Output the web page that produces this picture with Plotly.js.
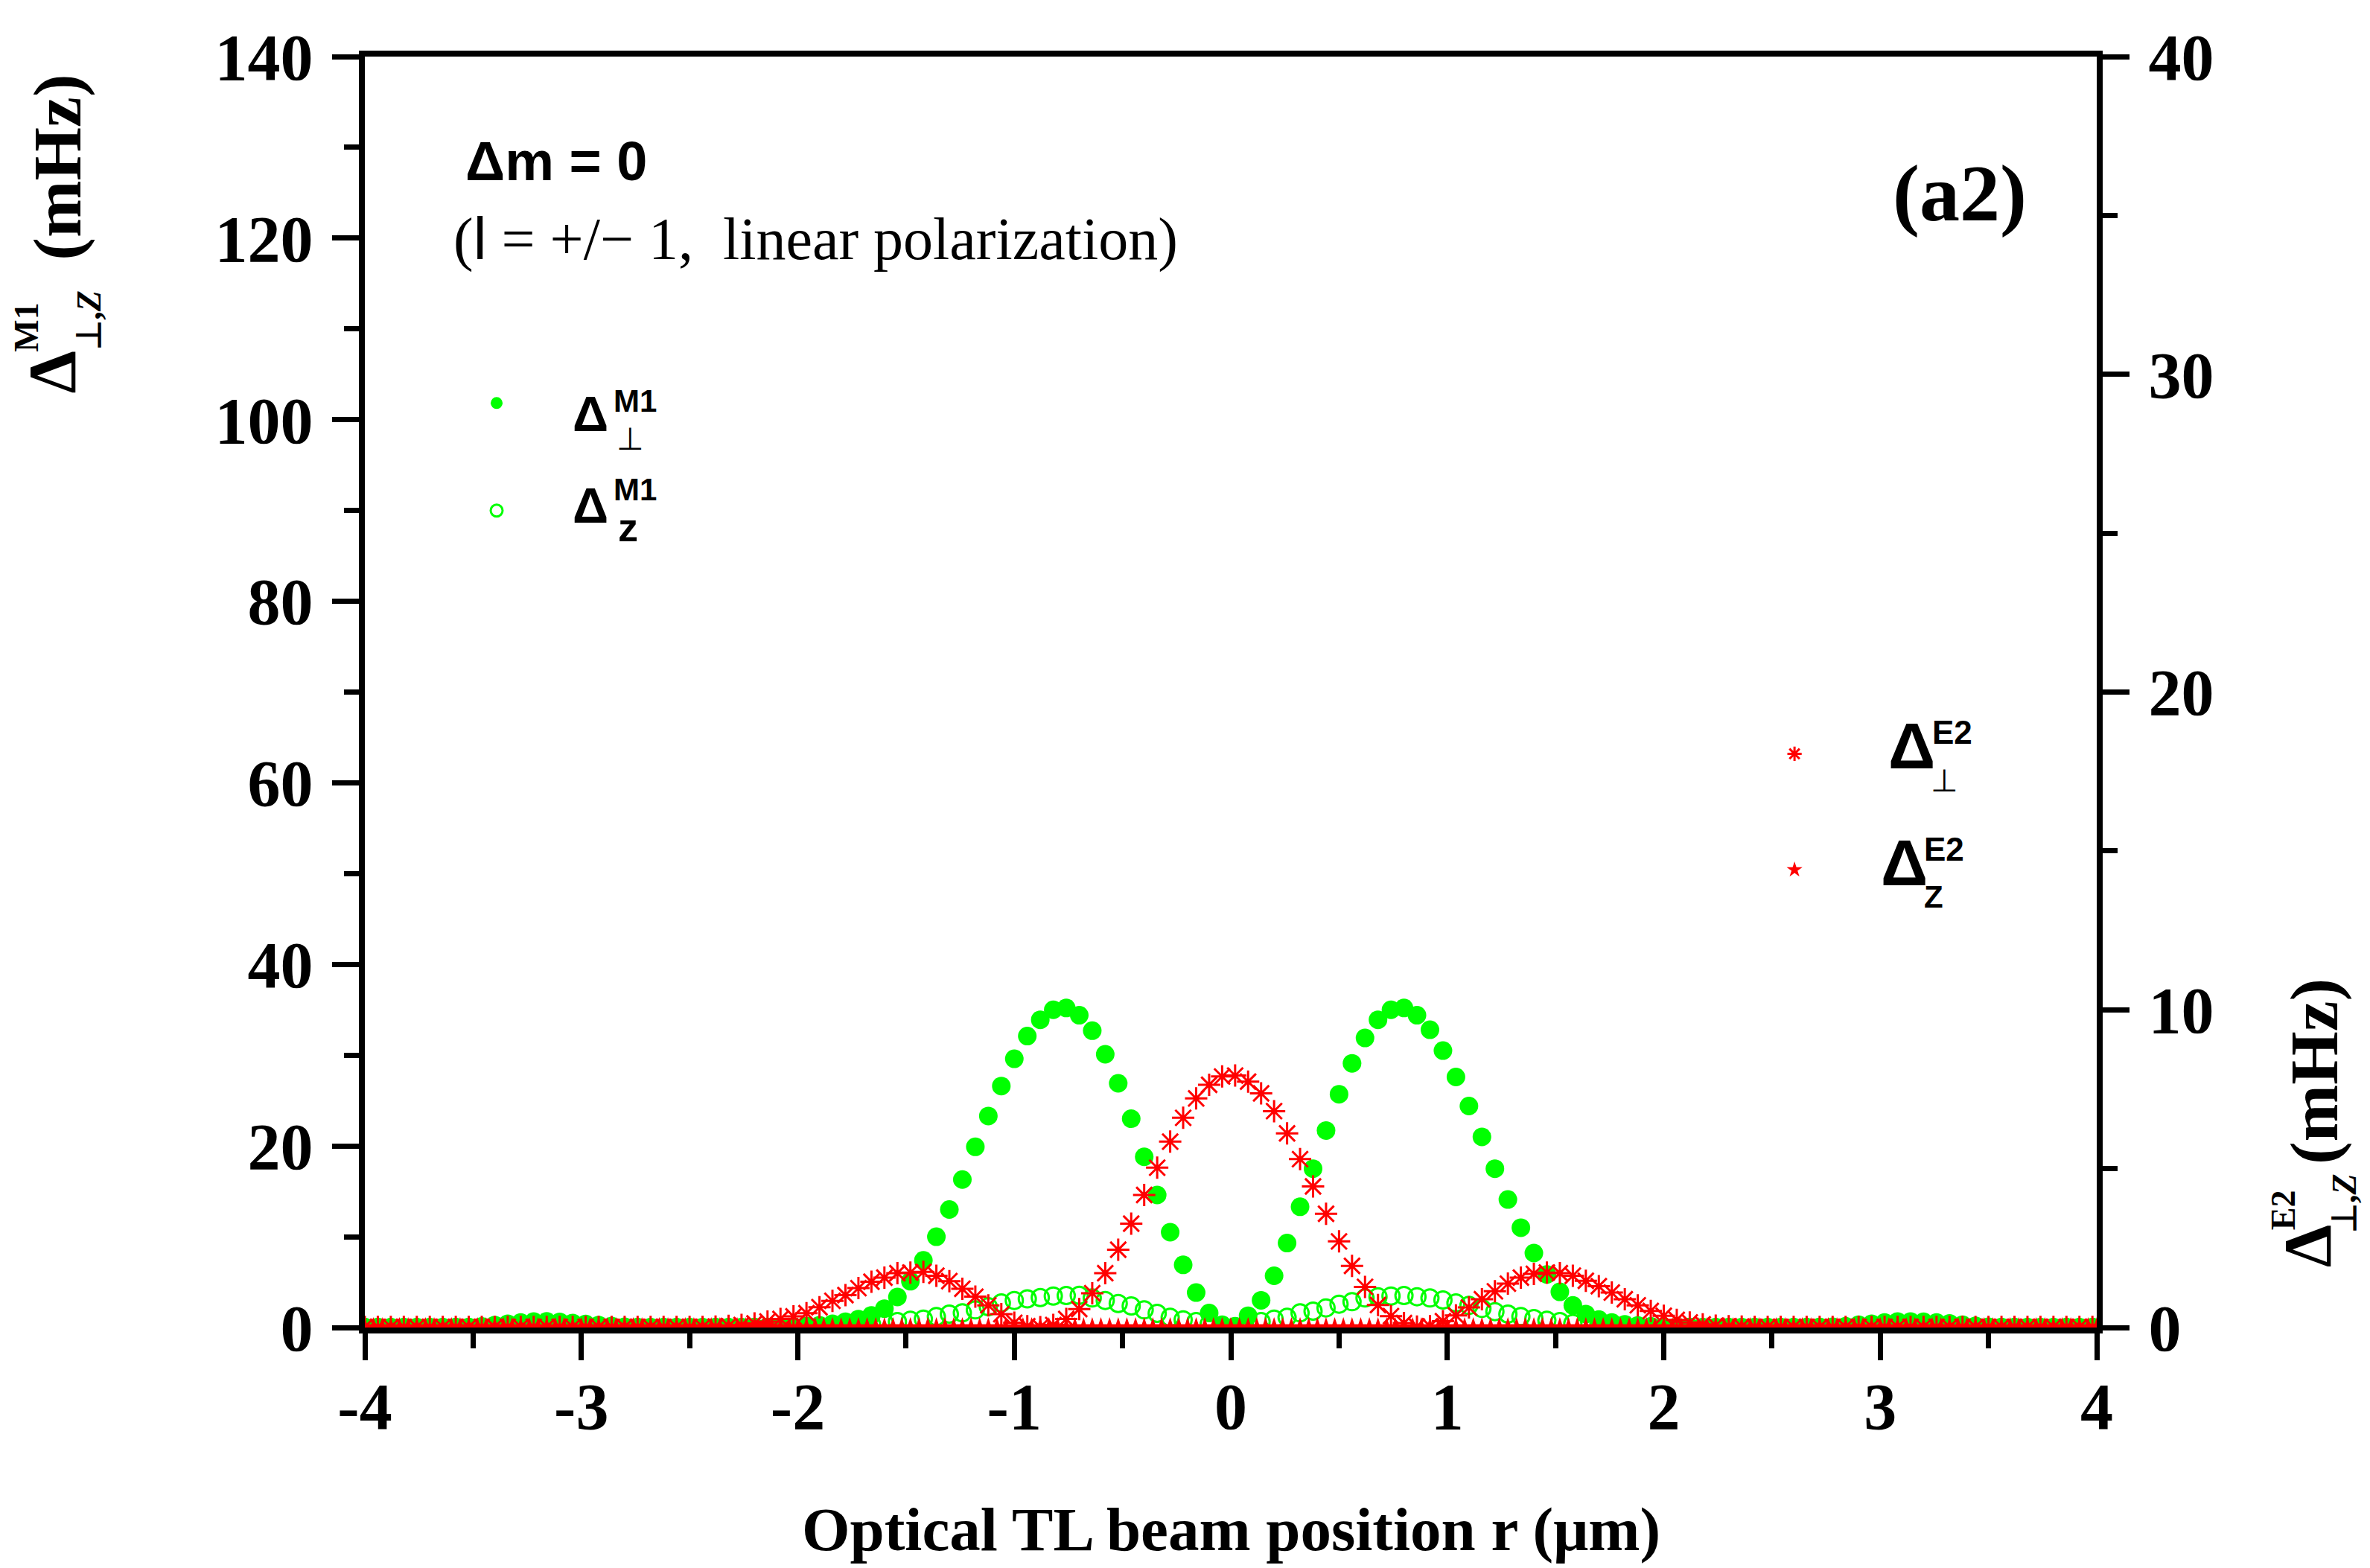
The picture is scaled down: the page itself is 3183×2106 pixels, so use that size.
<!DOCTYPE html>
<html>
<head>
<meta charset="utf-8">
<script src="https://cdn.plot.ly/plotly-3.0.1.min.js"></script>
<style>
  html, body { margin: 0; padding: 0; background: #ffffff; }
  #chart { width: 3183px; height: 2106px; }
</style>
</head>
<body>
<div id="chart"></div>
<script>
// beam position r (um), sampled every 0.06 for the first three series
var r_pos = [
  -4.00, -3.94, -3.88, -3.82, -3.76, -3.70, -3.64, -3.58, -3.52, -3.46,
  -3.40, -3.34, -3.28, -3.22, -3.16, -3.10, -3.04, -2.98, -2.92, -2.86,
  -2.80, -2.74, -2.68, -2.62, -2.56, -2.50, -2.44, -2.38, -2.32, -2.26,
  -2.20, -2.14, -2.08, -2.02, -1.96, -1.90, -1.84, -1.78, -1.72, -1.66,
  -1.60, -1.54, -1.48, -1.42, -1.36, -1.30, -1.24, -1.18, -1.12, -1.06,
  -1.00, -0.94, -0.88, -0.82, -0.76, -0.70, -0.64, -0.58, -0.52, -0.46,
  -0.40, -0.34, -0.28, -0.22, -0.16, -0.10, -0.04, 0.02, 0.08, 0.14,
  0.20, 0.26, 0.32, 0.38, 0.44, 0.50, 0.56, 0.62, 0.68, 0.74,
  0.80, 0.86, 0.92, 0.98, 1.04, 1.10, 1.16, 1.22, 1.28, 1.34,
  1.40, 1.46, 1.52, 1.58, 1.64, 1.70, 1.76, 1.82, 1.88, 1.94,
  2.00, 2.06, 2.12, 2.18, 2.24, 2.30, 2.36, 2.42, 2.48, 2.54,
  2.60, 2.66, 2.72, 2.78, 2.84, 2.90, 2.96, 3.02, 3.08, 3.14,
  3.20, 3.26, 3.32, 3.38, 3.44, 3.50, 3.56, 3.62, 3.68, 3.74,
  3.80, 3.86, 3.92, 3.98
];

// M1 perpendicular (mHz, left axis)
var m1_perp = [
  0.03, 0.02, 0.02, 0.01, 0.01, 0.01, 0.02, 0.03, 0.05, 0.12,
  0.27, 0.42, 0.55, 0.65, 0.67, 0.62, 0.50, 0.38, 0.26, 0.16,
  0.08, 0.03, 0.01, 0.00, 0.00, 0.00, 0.00, 0.00, 0.00, 0.01,
  0.02, 0.03, 0.05, 0.08, 0.14, 0.25, 0.42, 0.64, 0.93, 1.34,
  2.08, 3.36, 5.10, 7.40, 10.0, 13.0, 16.3, 19.9, 23.3, 26.6,
  29.6, 32.1, 33.9, 35.0, 35.2, 34.4, 32.7, 30.1, 26.9, 23.0,
  18.8, 14.6, 10.5, 6.90, 3.85, 1.60, 0.30, 0.10, 1.30, 3.00,
  5.70, 9.30, 13.3, 17.5, 21.7, 25.7, 29.1, 31.9, 33.9, 35.0,
  35.2, 34.4, 32.8, 30.5, 27.6, 24.4, 21.0, 17.5, 14.1, 11.0,
  8.20, 5.85, 3.93, 2.43, 1.48, 0.88, 0.55, 0.35, 0.22, 0.13,
  0.07, 0.04, 0.02, 0.01, 0.00, 0.00, 0.00, 0.00, 0.00, 0.01,
  0.02, 0.03, 0.06, 0.09, 0.14, 0.30, 0.41, 0.55, 0.66, 0.66,
  0.63, 0.55, 0.46, 0.30, 0.19, 0.08, 0.04, 0.02, 0.01, 0.01,
  0.01, 0.02, 0.02, 0.03
];

// M1 z (mHz, left axis)
var m1_z = [
  0.01, 0.01, 0.01, 0.01, 0.01, 0.01, 0.01, 0.01, 0.01, 0.01,
  0.01, 0.01, 0.01, 0.01, 0.01, 0.01, 0.01, 0.01, 0.01, 0.01,
  0.01, 0.01, 0.01, 0.01, 0.01, 0.01, 0.01, 0.01, 0.01, 0.01,
  0.02, 0.03, 0.05, 0.07, 0.10, 0.14, 0.19, 0.25, 0.32, 0.40,
  0.48, 0.66, 0.79, 0.93, 1.20, 1.48, 1.61, 1.94, 2.29, 2.70,
  2.98, 3.16, 3.30, 3.47, 3.52, 3.55, 3.25, 2.98, 2.65, 2.38,
  1.94, 1.56, 1.12, 0.85, 0.66, 0.38, 0.12, 0.10, 0.38, 0.66,
  0.93, 1.12, 1.61, 1.80, 2.16, 2.57, 2.84, 3.25, 3.39, 3.47,
  3.52, 3.39, 3.25, 3.03, 2.70, 2.43, 2.10, 1.75, 1.48, 1.20,
  0.98, 0.79, 0.66, 0.46, 0.36, 0.28, 0.21, 0.15, 0.10, 0.07,
  0.05, 0.03, 0.02, 0.01, 0.01, 0.01, 0.01, 0.01, 0.01, 0.01,
  0.01, 0.01, 0.01, 0.01, 0.01, 0.01, 0.01, 0.01, 0.01, 0.01,
  0.01, 0.01, 0.01, 0.01, 0.01, 0.01, 0.01, 0.01, 0.01, 0.01,
  0.01, 0.01, 0.01, 0.01
];

// E2 perpendicular (mHz, right axis)
var e2_perp = [
  0.02, 0.02, 0.02, 0.02, 0.02, 0.02, 0.02, 0.02, 0.02, 0.02,
  0.02, 0.02, 0.02, 0.02, 0.02, 0.02, 0.02, 0.02, 0.02, 0.02,
  0.02, 0.02, 0.02, 0.02, 0.02, 0.02, 0.02, 0.03, 0.05, 0.08,
  0.13, 0.19, 0.27, 0.35, 0.45, 0.64, 0.84, 1.02, 1.24, 1.44,
  1.57, 1.71, 1.73, 1.75, 1.63, 1.46, 1.22, 0.97, 0.70, 0.42,
  0.15, 0.04, 0.01, 0.08, 0.27, 0.58, 1.08, 1.71, 2.45, 3.27,
  4.17, 5.03, 5.85, 6.60, 7.21, 7.64, 7.90, 7.93, 7.74, 7.37,
  6.81, 6.11, 5.30, 4.44, 3.58, 2.71, 1.94, 1.28, 0.71, 0.36,
  0.14, 0.03, 0.04, 0.20, 0.38, 0.63, 0.89, 1.14, 1.38, 1.57,
  1.69, 1.73, 1.71, 1.63, 1.47, 1.30, 1.10, 0.89, 0.70, 0.52,
  0.37, 0.24, 0.16, 0.10, 0.06, 0.04, 0.03, 0.02, 0.02, 0.02,
  0.02, 0.02, 0.02, 0.02, 0.02, 0.02, 0.02, 0.02, 0.02, 0.02,
  0.02, 0.02, 0.02, 0.02, 0.02, 0.02, 0.02, 0.02, 0.02, 0.02,
  0.02, 0.02, 0.02, 0.02
];

// E2 z is sampled every 0.04 and stays at zero everywhere
var r_pos_fine = [
  -4.00, -3.96, -3.92, -3.88, -3.84, -3.80, -3.76, -3.72, -3.68, -3.64,
  -3.60, -3.56, -3.52, -3.48, -3.44, -3.40, -3.36, -3.32, -3.28, -3.24,
  -3.20, -3.16, -3.12, -3.08, -3.04, -3.00, -2.96, -2.92, -2.88, -2.84,
  -2.80, -2.76, -2.72, -2.68, -2.64, -2.60, -2.56, -2.52, -2.48, -2.44,
  -2.40, -2.36, -2.32, -2.28, -2.24, -2.20, -2.16, -2.12, -2.08, -2.04,
  -2.00, -1.96, -1.92, -1.88, -1.84, -1.80, -1.76, -1.72, -1.68, -1.64,
  -1.60, -1.56, -1.52, -1.48, -1.44, -1.40, -1.36, -1.32, -1.28, -1.24,
  -1.20, -1.16, -1.12, -1.08, -1.04, -1.00, -0.96, -0.92, -0.88, -0.84,
  -0.80, -0.76, -0.72, -0.68, -0.64, -0.60, -0.56, -0.52, -0.48, -0.44,
  -0.40, -0.36, -0.32, -0.28, -0.24, -0.20, -0.16, -0.12, -0.08, -0.04,
  0.00, 0.04, 0.08, 0.12, 0.16, 0.20, 0.24, 0.28, 0.32, 0.36,
  0.40, 0.44, 0.48, 0.52, 0.56, 0.60, 0.64, 0.68, 0.72, 0.76,
  0.80, 0.84, 0.88, 0.92, 0.96, 1.00, 1.04, 1.08, 1.12, 1.16,
  1.20, 1.24, 1.28, 1.32, 1.36, 1.40, 1.44, 1.48, 1.52, 1.56,
  1.60, 1.64, 1.68, 1.72, 1.76, 1.80, 1.84, 1.88, 1.92, 1.96,
  2.00, 2.04, 2.08, 2.12, 2.16, 2.20, 2.24, 2.28, 2.32, 2.36,
  2.40, 2.44, 2.48, 2.52, 2.56, 2.60, 2.64, 2.68, 2.72, 2.76,
  2.80, 2.84, 2.88, 2.92, 2.96, 3.00, 3.04, 3.08, 3.12, 3.16,
  3.20, 3.24, 3.28, 3.32, 3.36, 3.40, 3.44, 3.48, 3.52, 3.56,
  3.60, 3.64, 3.68, 3.72, 3.76, 3.80, 3.84, 3.88, 3.92, 3.96,
  4.00
];

var e2_z = [
  0, 0, 0, 0, 0, 0, 0, 0, 0, 0,   0, 0, 0, 0, 0, 0, 0, 0, 0, 0,
  0, 0, 0, 0, 0, 0, 0, 0, 0, 0,   0, 0, 0, 0, 0, 0, 0, 0, 0, 0,
  0, 0, 0, 0, 0, 0, 0, 0, 0, 0,   0, 0, 0, 0, 0, 0, 0, 0, 0, 0,
  0, 0, 0, 0, 0, 0, 0, 0, 0, 0,   0, 0, 0, 0, 0, 0, 0, 0, 0, 0,
  0, 0, 0, 0, 0, 0, 0, 0, 0, 0,   0, 0, 0, 0, 0, 0, 0, 0, 0, 0,
  0, 0, 0, 0, 0, 0, 0, 0, 0, 0,   0, 0, 0, 0, 0, 0, 0, 0, 0, 0,
  0, 0, 0, 0, 0, 0, 0, 0, 0, 0,   0, 0, 0, 0, 0, 0, 0, 0, 0, 0,
  0, 0, 0, 0, 0, 0, 0, 0, 0, 0,   0, 0, 0, 0, 0, 0, 0, 0, 0, 0,
  0, 0, 0, 0, 0, 0, 0, 0, 0, 0,   0, 0, 0, 0, 0, 0, 0, 0, 0, 0,
  0, 0, 0, 0, 0, 0, 0, 0, 0, 0,   0, 0, 0, 0, 0, 0, 0, 0, 0, 0,
  0
];

var x_tick_vals = [-4, -3, -2, -1, 0, 1, 2, 3, 4];
var x_tick_text = ['-4', '-3', '-2', '-1', '0', '1', '2', '3', '4'];

var GREEN = '#00ff00';
var RED = '#ff0000';
var SERIF = 'Liberation Serif, Times New Roman, serif';
var SANS = 'Liberation Sans, Arial, sans-serif';

var tick_font = { family: SERIF, size: 88, color: 'black', weight: 'bold' };

var trace_m1_perp = {
  x: r_pos, y: m1_perp, type: 'scatter', mode: 'markers', name: ' ',
  legend: 'legend',
  marker: { symbol: 'circle', size: 25, color: GREEN, line: { width: 0 } }
};
var trace_m1_z = {
  x: r_pos, y: m1_z, type: 'scatter', mode: 'markers', name: ' ',
  legend: 'legend2',
  marker: { symbol: 'circle-open', size: 23, color: GREEN, line: { color: GREEN, width: 3 } }
};
var trace_e2_perp = {
  x: r_pos, y: e2_perp, type: 'scatter', mode: 'markers', name: ' ',
  yaxis: 'y2', legend: 'legend3',
  marker: { symbol: 'asterisk-open', size: 25, color: RED, line: { color: RED, width: 3 } }
};
var trace_e2_z = {
  x: r_pos_fine, y: e2_z, type: 'scatter', mode: 'markers', name: ' ',
  yaxis: 'y2', legend: 'legend4',
  marker: { symbol: 'star', size: 20, color: RED, line: { width: 0 } }
};

function legendAt(x, y) {
  return {
    x: x, y: y, xanchor: 'left', yanchor: 'top',
    bgcolor: 'rgba(0,0,0,0)', borderwidth: 0,
    font: { size: 10 }, itemsizing: 'trace'
  };
}

function note(text, x, y, family, size, weight, angle, xanchor) {
  return {
    text: text, x: x, y: y, xref: 'paper', yref: 'paper',
    xanchor: xanchor || 'center', yanchor: 'middle',
    showarrow: false, textangle: angle || 0,
    font: { family: family, size: size, color: 'black', weight: weight || 'normal' }
  };
}

var notes = [
  // left axis title
  note('(mHz)', -0.1776, 0.9128, SERIF, 92, 'bold', -90),
  note('\u0394', -0.1806, 0.7518, SERIF, 92, 'bold', -90),
  note('M1', -0.1952, 0.7869, SERIF, 46, 'bold', -90),
  note('\u22a5,<i>Z</i>', -0.1591, 0.7927, SERIF, 46, 'bold', -90),
  // right axis title
  note('(mHz)', 1.1255, 0.2014, SERIF, 92, 'bold', -90),
  note('\u0394', 1.1217, 0.0644, SERIF, 92, 'bold', -90),
  note('E2', 1.1075, 0.0925, SERIF, 46, 'bold', -90),
  note('\u22a5,<i>Z</i>', 1.1427, 0.0978, SERIF, 46, 'bold', -90),
  // x axis title
  note('Optical TL beam position r (\u03bcm)', 0.5, -0.159, SERIF, 83, 'bold', 0),
  // header texts
  note('\u0394m = 0', 0.0572, 0.9175, SANS, 74, 'bold', 0, 'left'),
  note('(<span style="font-family:Liberation Sans">l</span> = +/\u2212 1,  linear polarization)',
       0.0503, 0.8566, SERIF, 80, 'normal', 0, 'left'),
  note('(a2)', 0.9209, 0.8923, SERIF, 108, 'bold', 0),
  // legend labels, M1
  note('\u0394', 0.1303, 0.7190, SANS, 67, 'bold'),
  note('M1', 0.1560, 0.7289, SANS, 42, 'bold'),
  note('\u22a5', 0.1531, 0.6990, 'DejaVu Sans', 42, 'normal'),
  note('\u0394', 0.1303, 0.6470, SANS, 67, 'bold'),
  note('M1', 0.1560, 0.6593, SANS, 42, 'bold'),
  note('z', 0.1518, 0.6300, SANS, 54, 'bold'),
  // legend labels, E2
  note('\u0394', 0.8930, 0.4578, SANS, 88, 'bold'),
  note('E2', 0.9166, 0.4684, SANS, 44, 'bold'),
  note('\u22a5', 0.9119, 0.4300, 'DejaVu Sans', 42, 'normal'),
  note('\u0394', 0.8887, 0.3659, SANS, 88, 'bold'),
  note('E2', 0.9119, 0.3765, SANS, 44, 'bold'),
  note('Z', 0.9059, 0.3390, SANS, 42, 'bold')
];

var layout = {
  width: 3183,
  height: 2106,
  margin: { l: 490, r: 367, t: 76, b: 323, pad: 0 },
  paper_bgcolor: 'white',
  plot_bgcolor: 'white',
  showlegend: true,
  legend: legendAt(0.0675, 0.7359),
  legend2: legendAt(0.0675, 0.6513),
  legend3: legendAt(0.8169, 0.4599),
  legend4: legendAt(0.8169, 0.3686),
  xaxis: {
    range: [-4, 4],
    showgrid: false, zeroline: false,
    showline: true, linewidth: 8, linecolor: 'black', mirror: true,
    ticks: 'outside', ticklen: 36, tickwidth: 7, tickcolor: 'black',
    tickmode: 'array', tickvals: x_tick_vals, ticktext: x_tick_text,
    tickfont: tick_font, ticklabelstandoff: -14,
    minor: { tickmode: 'linear', tick0: -4, dtick: 0.5, ticks: 'outside', ticklen: 20, tickwidth: 7, tickcolor: 'black', showgrid: false }
  },
  yaxis: {
    range: [0, 140],
    showgrid: false, zeroline: false,
    showline: true, linewidth: 8, linecolor: 'black',
    ticks: 'outside', ticklen: 36, tickwidth: 7, tickcolor: 'black',
    tickmode: 'linear', tick0: 0, dtick: 20,
    tickfont: tick_font, ticklabelstandoff: 8,
    minor: { tickmode: 'linear', tick0: 0, dtick: 10, ticks: 'outside', ticklen: 20, tickwidth: 7, tickcolor: 'black', showgrid: false }
  },
  yaxis2: {
    overlaying: 'y', side: 'right',
    range: [0, 40],
    showgrid: false, zeroline: false,
    showline: true, linewidth: 8, linecolor: 'black',
    ticks: 'outside', ticklen: 36, tickwidth: 7, tickcolor: 'black',
    tickmode: 'linear', tick0: 0, dtick: 10,
    tickfont: tick_font, ticklabelstandoff: 8,
    minor: { tickmode: 'linear', tick0: 0, dtick: 5, ticks: 'outside', ticklen: 20, tickwidth: 7, tickcolor: 'black', showgrid: false }
  },
  annotations: notes
};

Plotly.newPlot('chart', [trace_m1_perp, trace_m1_z, trace_e2_perp, trace_e2_z], layout, { displayModeBar: false, staticPlot: true });
</script>
</body>
</html>
